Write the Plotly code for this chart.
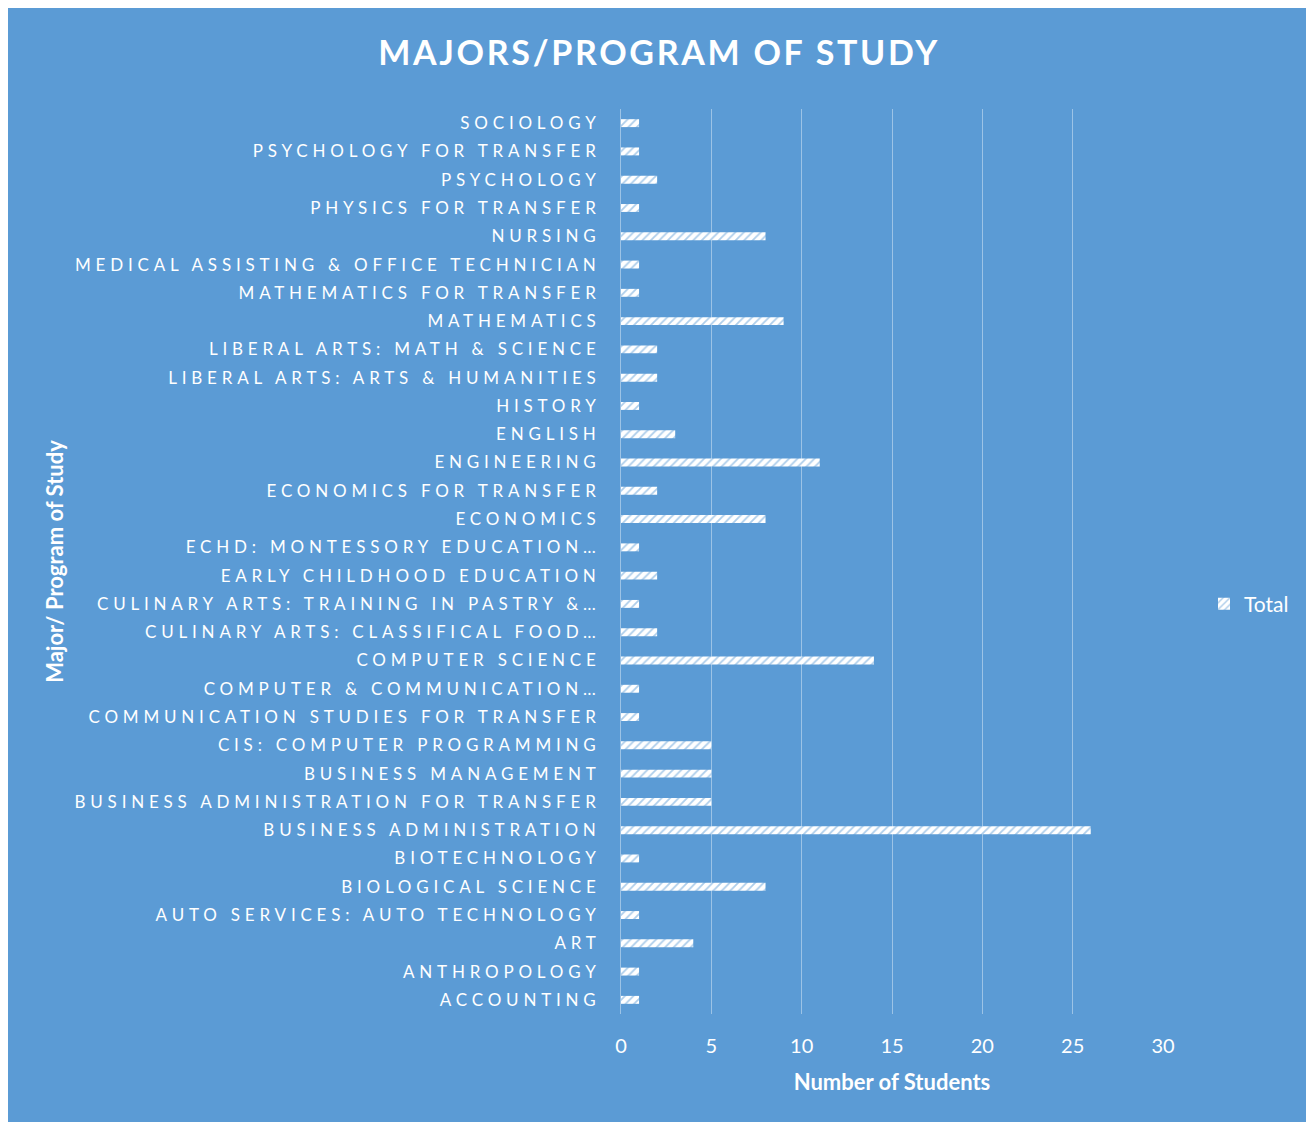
import plotly.graph_objects as go

categories = [
    "SOCIOLOGY", "PSYCHOLOGY FOR TRANSFER", "PSYCHOLOGY", "PHYSICS FOR TRANSFER",
    "NURSING", "MEDICAL ASSISTING & OFFICE TECHNICIAN", "MATHEMATICS FOR TRANSFER",
    "MATHEMATICS", "LIBERAL ARTS: MATH & SCIENCE", "LIBERAL ARTS: ARTS & HUMANITIES",
    "HISTORY", "ENGLISH", "ENGINEERING", "ECONOMICS FOR TRANSFER", "ECONOMICS",
    "ECHD: MONTESSORY EDUCATION…", "EARLY CHILDHOOD EDUCATION",
    "CULINARY ARTS: TRAINING IN PASTRY &…", "CULINARY ARTS: CLASSIFICAL FOOD…",
    "COMPUTER SCIENCE", "COMPUTER & COMMUNICATION…", "COMMUNICATION STUDIES FOR TRANSFER",
    "CIS: COMPUTER PROGRAMMING", "BUSINESS MANAGEMENT", "BUSINESS ADMINISTRATION FOR TRANSFER",
    "BUSINESS ADMINISTRATION", "BIOTECHNOLOGY", "BIOLOGICAL SCIENCE",
    "AUTO SERVICES: AUTO TECHNOLOGY", "ART", "ANTHROPOLOGY", "ACCOUNTING",
]
totals = [1, 1, 2, 1, 8, 1, 1, 9, 2, 2, 1, 3, 11, 2, 8, 1, 2, 1, 2, 14, 1, 1,
          5, 5, 5, 26, 1, 8, 1, 4, 1, 1]
x_ticks = [0, 5, 10, 15, 20, 25, 30]

BG = "#5B9BD5"
FONT = "Lato, 'Open Sans', sans-serif"

tick_text = ['<span style="letter-spacing:4.8px">%s</span>' % c for c in categories]

fig = go.Figure()
fig.add_trace(go.Bar(
    y=categories, x=totals, orientation="h", name="Total",
    marker=dict(color="white", line=dict(width=0),
                pattern=dict(shape="/", fgcolor=BG, bgcolor="white", size=6, solidity=0.3)),
))

W, H = 1302, 1114
L, R, T, B = 613, 1155, 101, 1006

fig.update_layout(
    width=W, height=H,
    margin=dict(l=L, r=W - R, t=T, b=H - B, autoexpand=False),
    paper_bgcolor=BG, plot_bgcolor="rgba(0,0,0,0)",
    bargap=0.72,
    font=dict(family=FONT, color="white"),
    title=dict(text='<b><span style="letter-spacing:2.7px">MAJORS/PROGRAM OF STUDY</span></b>',
               x=(659 - 8) / W, xanchor="center", y=1 - (53 - 8) / H, yanchor="middle",
               font=dict(size=34, color="white", family=FONT)),
    xaxis=dict(range=[0, 30], tickvals=x_ticks, showgrid=True,
               gridcolor="rgba(255,255,255,0.4)", gridwidth=1, zeroline=False,
               showline=False, ticks="outside", ticklen=14, tickcolor="rgba(0,0,0,0)",
               tickfont=dict(size=20, color="white"),
               title=dict(text="<b>Number of Students</b>", font=dict(size=22, color="white"), standoff=18)),
    yaxis=dict(tickmode="array", tickvals=categories, ticktext=tick_text,
               autorange="reversed", showgrid=False, zeroline=False,
               showline=True, linecolor="rgba(255,255,255,0.4)", linewidth=1,
               ticks="outside", ticklen=16, tickcolor="rgba(0,0,0,0)",
               tickfont=dict(size=17, color="white"),
               title=dict(text="<b>Major/ Program of Study</b>", font=dict(size=22, color="white"), standoff=4)),
    legend=dict(x=(1204 - 621) / 542, y=(1014 - 604) / 905, xanchor="left", yanchor="middle",
                font=dict(size=21, color="white"), bgcolor="rgba(0,0,0,0)", itemwidth=30),
    showlegend=True,
)

fig.write_html("out.html")
